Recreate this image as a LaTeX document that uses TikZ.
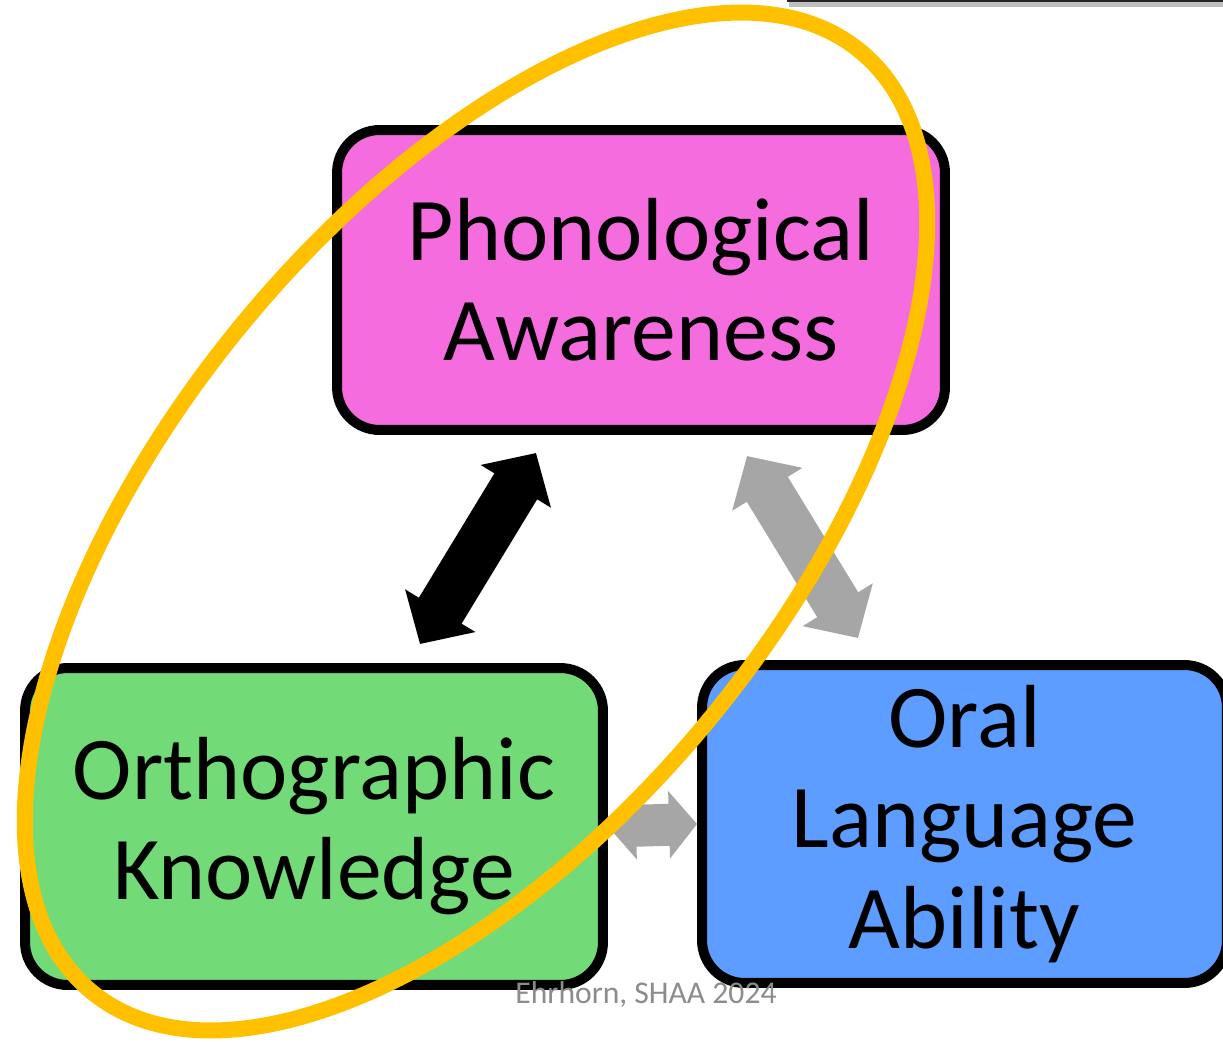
\documentclass[tikz,border=0pt]{standalone}
\usepackage{fontspec}
\setmainfont{Carlito}
\usetikzlibrary{arrows.meta}
\definecolor{phonopink}{HTML}{F56CDF}
\definecolor{orthogreen}{HTML}{72DB77}
\definecolor{oralblue}{HTML}{5C9DFF}
\definecolor{ringgold}{HTML}{FFC000}
\definecolor{linkgray}{HTML}{A6A6A6}
\definecolor{notegray}{HTML}{8C8C8C}

\begin{document}
\begin{tikzpicture}[x=0.02cm,y=-0.02cm,
  skill/.style={draw=black,line width=0.2cm,rounded corners=0.85cm,inner sep=0pt,
    align=center,font=\fontsize{51}{57}\selectfont},
  fatlink/.style={line width=1cm,{Triangle[length=0.78cm,width=1.6cm]}-{Triangle[length=0.78cm,width=1.6cm]}},
  shortlink/.style={linkgray,line width=0.84cm,{Triangle[length=0.56cm,width=1.32cm]}-{Triangle[length=0.56cm,width=1.32cm]}}]
  \clip (0,0) rectangle (1223,1041);

  % the three skills
  \node[skill,fill=phonopink,minimum width=12.16cm,minimum height=6cm] (phono) at (641,280)
    {Phonological\\Awareness};
  \node[skill,fill=orthogreen,minimum width=11.56cm,minimum height=6.34cm] (ortho) at (314,826.5)
    {Orthographic\\Knowledge};
  \node[skill,fill=oralblue,minimum width=10.5cm,minimum height=6.36cm] (oral) at (964.5,824)
    {Oral\\Language\\Ability};

  % links
  \coordinate (ortho-end) at (420,644);
  \coordinate (phono-end) at (536,453);
  \coordinate (phono-end2) at (747,456);
  \coordinate (oral-end) at (858,638);
  \draw[fatlink,black] (ortho-end) -- (phono-end);
  \draw[fatlink,linkgray,line width=0.96cm] (phono-end2) -- (oral-end);
  \draw[shortlink] (ortho.east) -- (oral.west);

  \node[text=notegray,font=\fontsize{18}{20}\selectfont] (credit) at (646,995) {Ehrhorn, SHAA 2024};

  % slide edge at the top
  \draw[black!25,line width=3pt] (789,4) -- (1223,4);
  \draw[black!85,line width=1.5pt] (787,1) -- (1223,1);

  % highlight ring
  \draw[ringgold,line width=0.32cm,rotate around={50.8:(476,521.5)}]
    (476,521.5) ellipse [x radius=12.15cm,y radius=6.12cm];
\end{tikzpicture}
\end{document}
